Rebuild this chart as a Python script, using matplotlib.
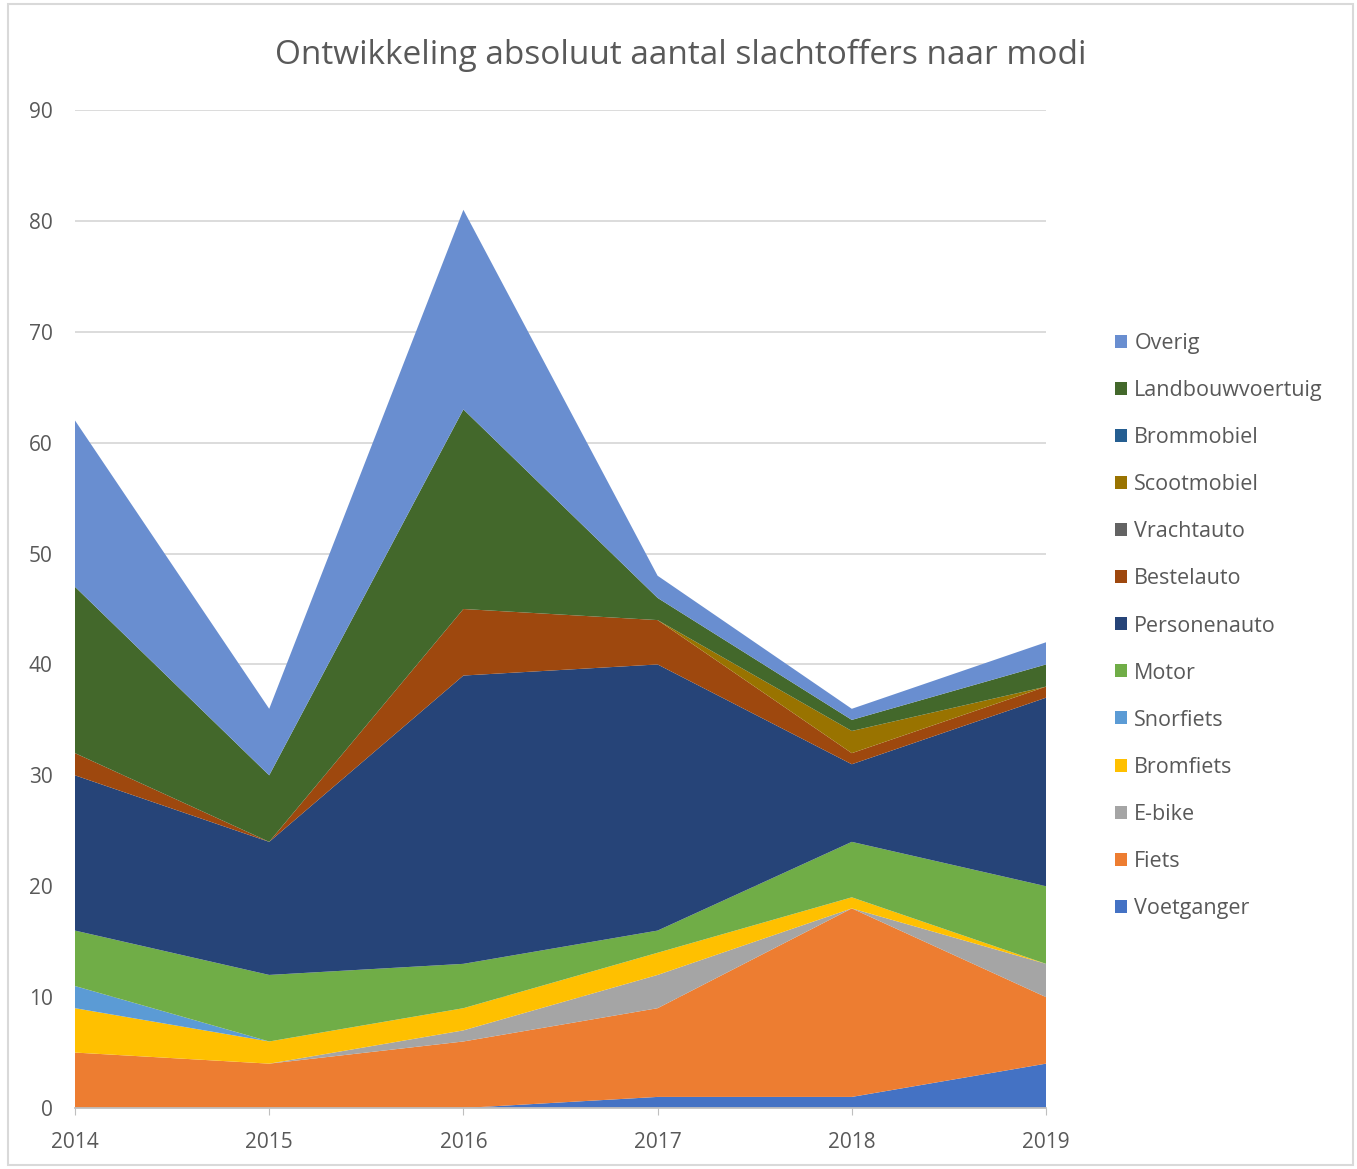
import matplotlib
matplotlib.use("Agg")
import matplotlib.pyplot as plt
from matplotlib.patches import Patch, Rectangle

years = [2014, 2015, 2016, 2017, 2018, 2019]
series_names = ["Voetganger", "Fiets", "E-bike", "Bromfiets", "Snorfiets", "Motor",
                "Personenauto", "Bestelauto", "Vrachtauto", "Scootmobiel",
                "Brommobiel", "Landbouwvoertuig", "Overig"]
voetganger = [0, 0, 0, 1, 1, 4]
fiets = [5, 4, 6, 8, 17, 6]
ebike = [0, 0, 1, 3, 0, 3]
bromfiets = [4, 2, 2, 2, 1, 0]
snorfiets = [2, 0, 0, 0, 0, 0]
motor = [5, 6, 4, 2, 5, 7]
personenauto = [14, 12, 26, 24, 7, 17]
bestelauto = [2, 0, 6, 4, 1, 1]
vrachtauto = [0, 0, 0, 0, 0, 0]
scootmobiel = [0, 0, 0, 0, 2, 0]
brommobiel = [0, 0, 0, 0, 0, 0]
landbouwvoertuig = [15, 6, 18, 2, 1, 2]
overig = [15, 6, 18, 2, 1, 2]

colors = ["#4472C4", "#ED7D31", "#A5A5A5", "#FFC000", "#5B9BD5", "#70AD47",
          "#264478", "#9E480E", "#636363", "#997300", "#255E91", "#43682B", "#698ED0"]

data = [voetganger, fiets, ebike, bromfiets, snorfiets, motor, personenauto,
        bestelauto, vrachtauto, scootmobiel, brommobiel, landbouwvoertuig, overig]

plt.rcParams['font.family'] = ['Open Sans', 'DejaVu Sans']

W, H = 1357, 1169
fig = plt.figure(figsize=(W / 100, H / 100), dpi=100)
ax = fig.add_axes([75 / W, 1 - 1108 / H, (1046 - 75) / W, (1108 - 110) / H])

ax.stackplot(years, *data, colors=colors, labels=series_names, linewidth=0)

ax.set_xlim(2014, 2019)
ax.set_ylim(0, 90)
ax.set_yticks(range(0, 91, 10))
ax.set_xticks(years)
ax.set_xticklabels([str(y) for y in years])
ax.grid(axis='y', color='#D9D9D9', linewidth=1.3)
ax.set_axisbelow(True)
for s in ['top', 'right', 'left']:
    ax.spines[s].set_visible(False)
ax.spines['bottom'].set_color('#BFBFBF')
ax.spines['bottom'].set_linewidth(1.3)
ax.tick_params(axis='y', length=0, pad=16, labelsize=15, labelcolor='#595959')
ax.tick_params(axis='x', length=5, color='#BFBFBF', pad=12, labelsize=15, labelcolor='#595959')

fig.text(681 / W, 1 - 55 / H, "Ontwikkeling absoluut aantal slachtoffers naar modi",
         ha='center', va='center', fontsize=24, color='#595959')

handles = [Patch(facecolor=c, edgecolor='none') for c in colors][::-1]
labels = series_names[::-1]
fig.legend(handles, labels, loc='center left',
           bbox_to_anchor=(1115 / W, 1 - 626 / H), frameon=False,
           fontsize=15.5, labelcolor='#595959', handlelength=0.55, handleheight=0.55,
           handletextpad=0.35, labelspacing=1.21, borderpad=0, borderaxespad=0)

fig.patches.append(Rectangle((8 / W, 4 / H), (1353 - 8) / W, (1165 - 4) / H,
                             transform=fig.transFigure, fill=False,
                             edgecolor='#D9D9D9', linewidth=1.5))

fig.savefig("out.png", dpi=100, facecolor='white')
